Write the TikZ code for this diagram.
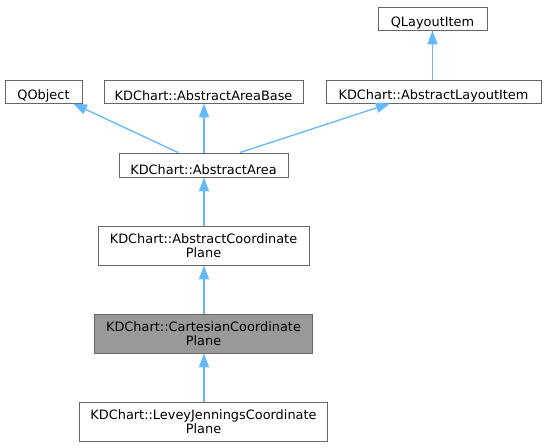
\documentclass[tikz,border=0pt]{standalone}
\usepackage{fontspec}
\setmainfont{DejaVu Sans}
\usetikzlibrary{arrows.meta}
\definecolor{edgeblue}{HTML}{63B8FF}
\definecolor{boxline}{HTML}{666666}
\definecolor{boxfill}{HTML}{999999}
\begin{document}
\begin{tikzpicture}[x=1pt,y=-1pt,
  cls/.style={draw=boxline, line width=0.9pt, fill=white, inner sep=0pt},
  txt/.style={inner sep=0pt, align=center, font=\fontsize{12.9}{14}\selectfont},
  inh/.style={draw=edgeblue, line width=1.3pt, -{Triangle[width=10pt,length=14pt]}, fill=edgeblue}]
\useasboundingbox (0,0) rectangle (545,447);
% boxes
\node[cls, minimum width=109pt, minimum height=23pt] (qli) at (432.5,18.5) {};
\node[cls, minimum width=77pt, minimum height=23pt] (qobj) at (43.5,91.5) {};
\node[cls, minimum width=199pt, minimum height=23pt] (aab) at (203.5,91.5) {};
\node[cls, minimum width=215pt, minimum height=23pt] (ali) at (433.5,91.5) {};
\node[cls, minimum width=169pt, minimum height=24pt] (aa) at (203.5,165) {};
\node[cls, minimum width=211pt, minimum height=39pt] (acp) at (203.5,245.5) {};
\node[cls, fill=boxfill, minimum width=218pt, minimum height=39pt] (ccp) at (203.5,333.5) {};
\node[cls, minimum width=248pt, minimum height=39pt] (ljcp) at (203.5,421.5) {};
% texts
\node[txt] (tqli) at ([yshift=-4.3pt]qli.center) {QLayoutItem};
\node[txt] (tqobj) at ([yshift=-4.3pt]qobj.center) {QObject};
\node[txt] (taab) at ([yshift=-4.3pt]aab.center) {KDChart::AbstractAreaBase};
\node[txt] (tali) at ([yshift=-4.3pt]ali.center) {KDChart::AbstractLayoutItem};
\node[txt] (taa) at ([yshift=-4.3pt]aa.center) {KDChart::AbstractArea};
\node[txt] (tacp) at ([yshift=-0.5pt]acp.center) {KDChart::AbstractCoordinate\\Plane};
\node[txt] (tccp) at ([yshift=-0.5pt]ccp.center) {KDChart::CartesianCoordinate\\Plane};
\node[txt] (tljcp) at ([yshift=-0.5pt]ljcp.center) {KDChart::LeveyJenningsCoordinate\\Plane};
% inheritance
\draw[inh] (qli.south |- ali.north) -- (qli.south);
\draw[inh] (aa.north -| 178,0) -- (qobj.south -| 73,0);
\draw[inh] (aa.north -| 204,0) -- (aab.south -| 204,0);
\draw[inh] (aa.north -| 240,0) -- (ali.south -| 390,0);
\draw[inh] (acp.north -| 204,0) -- (aa.south -| 204,0);
\draw[inh] (ccp.north -| 204,0) -- (acp.south -| 204,0);
\draw[inh] (ljcp.north -| 204,0) -- (ccp.south -| 204,0);
\end{tikzpicture}
\end{document}
